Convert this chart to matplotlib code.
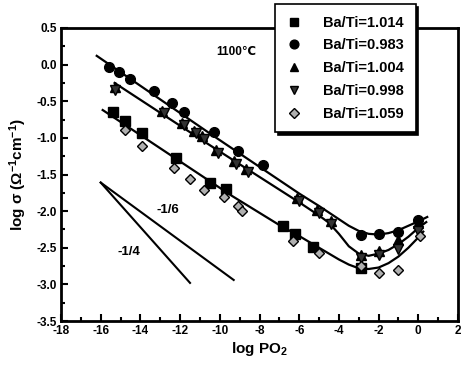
import matplotlib
matplotlib.use("Agg")
import matplotlib.pyplot as plt
from matplotlib.ticker import MultipleLocator

plt.rcParams['font.family'] = ['Liberation Sans', 'DejaVu Sans']
plt.rcParams['font.weight'] = 'bold'
plt.rcParams['mathtext.fontset'] = 'custom'
plt.rcParams['mathtext.rm'] = 'Liberation Sans:bold'
plt.rcParams['mathtext.it'] = 'Liberation Sans:bold'
plt.rcParams['mathtext.bf'] = 'Liberation Sans:bold'
plt.rcParams['mathtext.default'] = 'regular'

# ---- data ----
labels = ["Ba/Ti=1.014", "Ba/Ti=0.983", "Ba/Ti=1.004", "Ba/Ti=0.998", "Ba/Ti=1.059"]

sq_x = [-15.4, -14.8, -13.9, -12.2, -10.5, -9.7, -6.8, -6.2, -5.3, -2.9]
sq_y = [-0.65, -0.77, -0.93, -1.28, -1.62, -1.70, -2.20, -2.31, -2.49, -2.78]

ci_x = [-15.6, -15.1, -14.5, -13.3, -12.4, -11.8, -10.3, -9.1, -7.8, -2.9, -2.0, -1.0, 0.0]
ci_y = [-0.03, -0.10, -0.19, -0.36, -0.53, -0.64, -0.92, -1.18, -1.37, -2.32, -2.31, -2.29, -2.12]

tu_x = [-15.3, -12.9, -11.9, -11.3, -10.9, -10.2, -9.3, -8.7, -6.1, -5.1, -4.4, -2.9, -2.0, -1.0, 0.0]
tu_y = [-0.31, -0.63, -0.80, -0.90, -0.98, -1.17, -1.32, -1.43, -1.82, -1.99, -2.13, -2.60, -2.55, -2.40, -2.16]

td_x = [-15.3, -12.8, -11.8, -11.2, -10.8, -10.1, -9.2, -8.6, -6.0, -5.0, -4.4, -2.9, -2.0, -1.0, 0.0]
td_y = [-0.34, -0.66, -0.83, -0.93, -1.01, -1.21, -1.36, -1.47, -1.86, -2.03, -2.18, -2.64, -2.60, -2.52, -2.27]

di_x = [-14.8, -13.9, -12.3, -11.5, -10.8, -9.8, -9.1, -8.9, -6.3, -5.0, -2.9, -2.0, -1.0, 0.1]
di_y = [-0.89, -1.11, -1.41, -1.56, -1.71, -1.81, -1.93, -2.00, -2.41, -2.57, -2.75, -2.84, -2.81, -2.34]

# fitted curves
fit_top_x = [-16.2, -10.5, -6.0, -5.0, -4.5, -4.0, -3.5, -3.0, -2.5, -2.0, -1.5, -1.0, -0.5, 0.0, 0.45]
fit_top_y = [0.12, -0.94, -1.76, -1.93, -2.02, -2.11, -2.20, -2.27, -2.31, -2.32, -2.30, -2.26, -2.20, -2.14, -2.08]

fit_mid_x = [-15.3, -10.5, -6.0, -5.0, -4.5, -4.0, -3.5, -3.0, -2.5, -2.0, -1.5, -1.0, -0.5, 0.0, 0.4]
fit_mid_y = [-0.25, -1.10, -1.88, -2.06, -2.16, -2.31, -2.48, -2.58, -2.61, -2.58, -2.53, -2.45, -2.35, -2.23, -2.15]

fit_low_x = [-15.9, -9.4, -7.0, -6.0, -5.0, -4.0, -3.5, -3.0, -2.5, -2.0, -1.5, -1.0, -0.5, 0.0, 0.25]
fit_low_y = [-0.62, -1.79, -2.19, -2.34, -2.50, -2.66, -2.73, -2.78, -2.79, -2.77, -2.71, -2.62, -2.50, -2.36, -2.28]

ref_q_x = [-16.0, -11.5]   # slope -1/4 guide
ref_q_y = [-1.61, -2.98]
ref_s_x = [-16.0, -9.3]    # slope -1/6 guide
ref_s_y = [-1.61, -2.94]

xticks = [-18, -16, -14, -12, -10, -8, -6, -4, -2, 0, 2]
yticks = [0.5, 0.0, -0.5, -1.0, -1.5, -2.0, -2.5, -3.0, -3.5]

fig = plt.figure(figsize=(4.64, 3.66), dpi=100)
ax = fig.add_axes([61/464, 45/366, 397/464, 293/366])

lw = 1.6
for fx, fy in [(fit_top_x, fit_top_y), (fit_mid_x, fit_mid_y), (fit_low_x, fit_low_y)]:
    ax.plot(fx, fy, color='black', lw=lw, zorder=2)
ax.plot(ref_q_x, ref_q_y, color='black', lw=1.5)
ax.plot(ref_s_x, ref_s_y, color='black', lw=1.5)

ms = 6.5
h1, = ax.plot(sq_x, sq_y, 's', color='black', ms=ms, ls='none', zorder=3)
h2, = ax.plot(ci_x, ci_y, 'o', color='black', ms=ms+0.5, ls='none', zorder=3)
h3, = ax.plot(tu_x, tu_y, '^', color='black', ms=ms+0.5, ls='none', zorder=3)
h4, = ax.plot(td_x, td_y, 'v', mfc='#333333', mec='black', ms=ms, ls='none', zorder=3)
h5, = ax.plot(di_x, di_y, 'D', mfc='#b0b0b0', mec='black', mew=1.0, ms=5.5, ls='none', zorder=4)

ax.text(-12.6, -1.98, "-1/6", fontsize=9.5, fontweight='bold', ha='center', va='center')
ax.text(-14.6, -2.56, "-1/4", fontsize=9.5, fontweight='bold', ha='center', va='center')
ax.text(-10.2, 0.17, "1100\u2103", fontsize=8.5, fontweight='bold', ha='left', va='center',
        family=['Liberation Sans', 'DejaVu Sans'])

ax.set_xlim(-18, 2)
ax.set_ylim(-3.5, 0.5)
ax.set_xticks(xticks)
ax.set_yticks(yticks)
ax.set_xticklabels([str(t) for t in xticks])
ax.set_yticklabels([f"{t:.1f}" for t in yticks])
ax.xaxis.set_minor_locator(MultipleLocator(1))
ax.yaxis.set_minor_locator(MultipleLocator(0.25))
ax.tick_params(axis='both', which='major', direction='in', length=5, width=1.5, labelsize=8.5, pad=3)
ax.tick_params(axis='both', which='minor', direction='in', length=3, width=1.5)
ax.tick_params(top=False, right=False, which='both')
for lab in ax.get_xticklabels() + ax.get_yticklabels():
    lab.set_fontweight('bold')
for sp in ax.spines.values():
    sp.set_linewidth(2)

ax.set_xlabel(r"log PO$_2$", fontsize=11, fontweight='bold', labelpad=2)
ax.set_ylabel(r"log $\sigma$ ($\Omega^{-1}$cm$^{-1}$)", fontsize=11, fontweight='bold', labelpad=5)

leg = fig.legend([h1, h2, h3, h4, h5], labels, loc='upper left',
                 bbox_to_anchor=(275/464, 1 - 4/366), frameon=True, fancybox=False,
                 shadow={'color': 'black', 'alpha': 1.0}, edgecolor='black',
                 labelspacing=0.6, markerscale=0.9,
                 handlelength=1.0, handletextpad=1.5, borderpad=0.8, borderaxespad=0,
                 prop={'weight': 'bold', 'size': 10.5})
leg.get_frame().set_linewidth(1.2)
leg.get_frame().set_alpha(1)

fig.savefig("out.png", dpi=100)
